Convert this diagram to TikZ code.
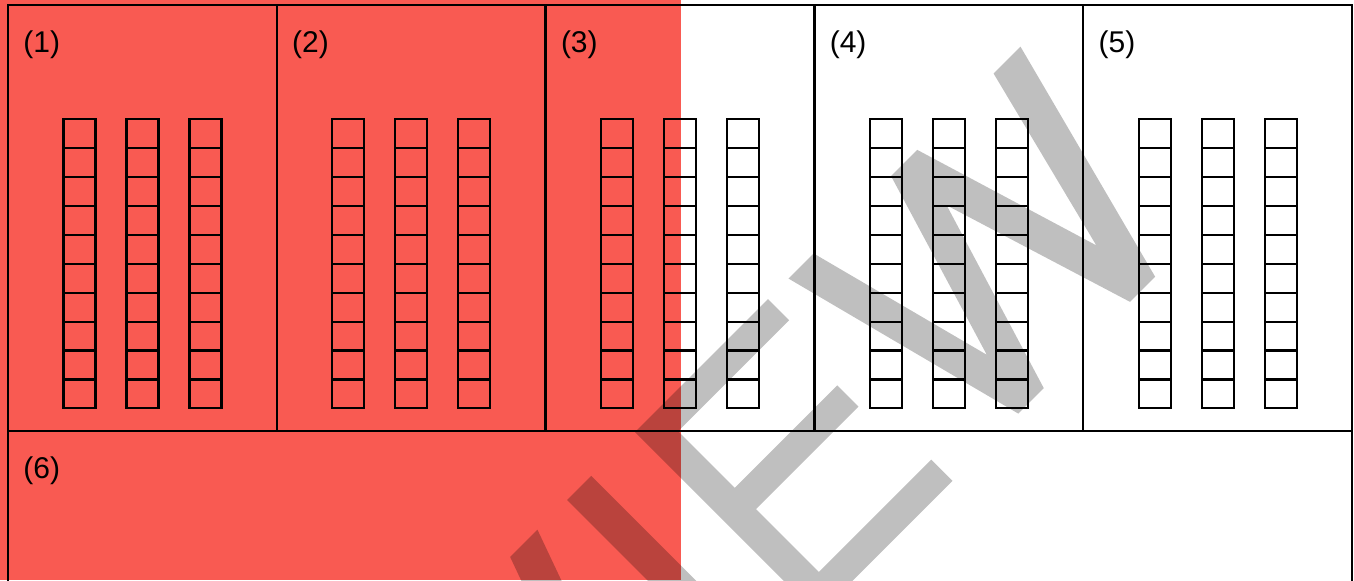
\documentclass[tikz,border=0pt]{standalone}
\usepackage{fontspec}
\setmainfont{Liberation Sans}
\usetikzlibrary{positioning,calc}

\definecolor{sheetred}{RGB}{249,90,82}

\begin{document}
\begin{tikzpicture}[
      x=0.5pt, y=-0.5pt,
      cell/.style={
        draw=black, line width=1.2pt, inner sep=0pt, outer sep=0pt,
        minimum width=134.4pt, minimum height=213pt
      },
      widecell/.style={cell, minimum width=672pt, minimum height=150pt},
      tag/.style={anchor=base west, inner sep=0pt, font=\fontsize{15pt}{18pt}\selectfont},
      box/.style={draw=black, line width=1.1pt},
      wmark/.style={fill=black, fill opacity=0.25}
      ]

  \useasboundingbox (0,0) rectangle (1354,580);
  \clip (0,0) rectangle (1354,580);

  \fill[sheetred] (0,0) rectangle (681,580);

  % the cells
  \node[cell, anchor=north west] at (8,5) (c1) {};
  \node[cell, right = 0 of c1] (c2) {};
  \node[cell, right = 0 of c2] (c3) {};
  \node[cell, right = 0 of c3] (c4) {};
  \node[cell, right = 0 of c4] (c5) {};
  \node[widecell, below right = 0 and 0 of c1.south west] (c6) {};

  \foreach \i in {1,...,6}
    \node[tag] (t\i) at ($(c\i.north west)+(15,47)$) {(\i)};

  % ten boxes in each column
  \foreach \i in {1,...,5}
    \foreach \dx in {-63,0,63}
      \foreach \k in {0,...,9}
        \draw[box] ($(c\i.north)+(\dx-16,114.3+\k*28.9)$) rectangle ++(32,28.9);

  % watermark
  \begin{scope}[shift={(635,432)}, x={(0.3536pt,0.3536pt)}, y={(0.3536pt,-0.3536pt)}]
    \fill[wmark]
      (-176.6,0) -- (-138,0) -- (-231,259) -- (-270,259) -- cycle
      (-96,0) -- (-62,0) -- (-62,259) -- (-96,259) -- cycle
      (0,0) -- (31,0) -- (31,259) -- (0,259) -- cycle
      (0,0) -- (188,0) -- (188,30) -- (0,30) -- cycle
      (0,110) -- (176,110) -- (176,140) -- (0,140) -- cycle
      (0,229) -- (190,229) -- (190,259) -- (0,259) -- cycle
      (217,0) -- (252.5,0) -- (320,258) -- (284,258) -- cycle
      (362,0) -- (399,0) -- (320,258) -- (284,258) -- cycle
      (362,0) -- (399,0) -- (477.5,258) -- (442,258) -- cycle
      (507,0) -- (545,0) -- (477.5,258) -- (442,258) -- cycle;
  \end{scope}

\end{tikzpicture}
\end{document}
